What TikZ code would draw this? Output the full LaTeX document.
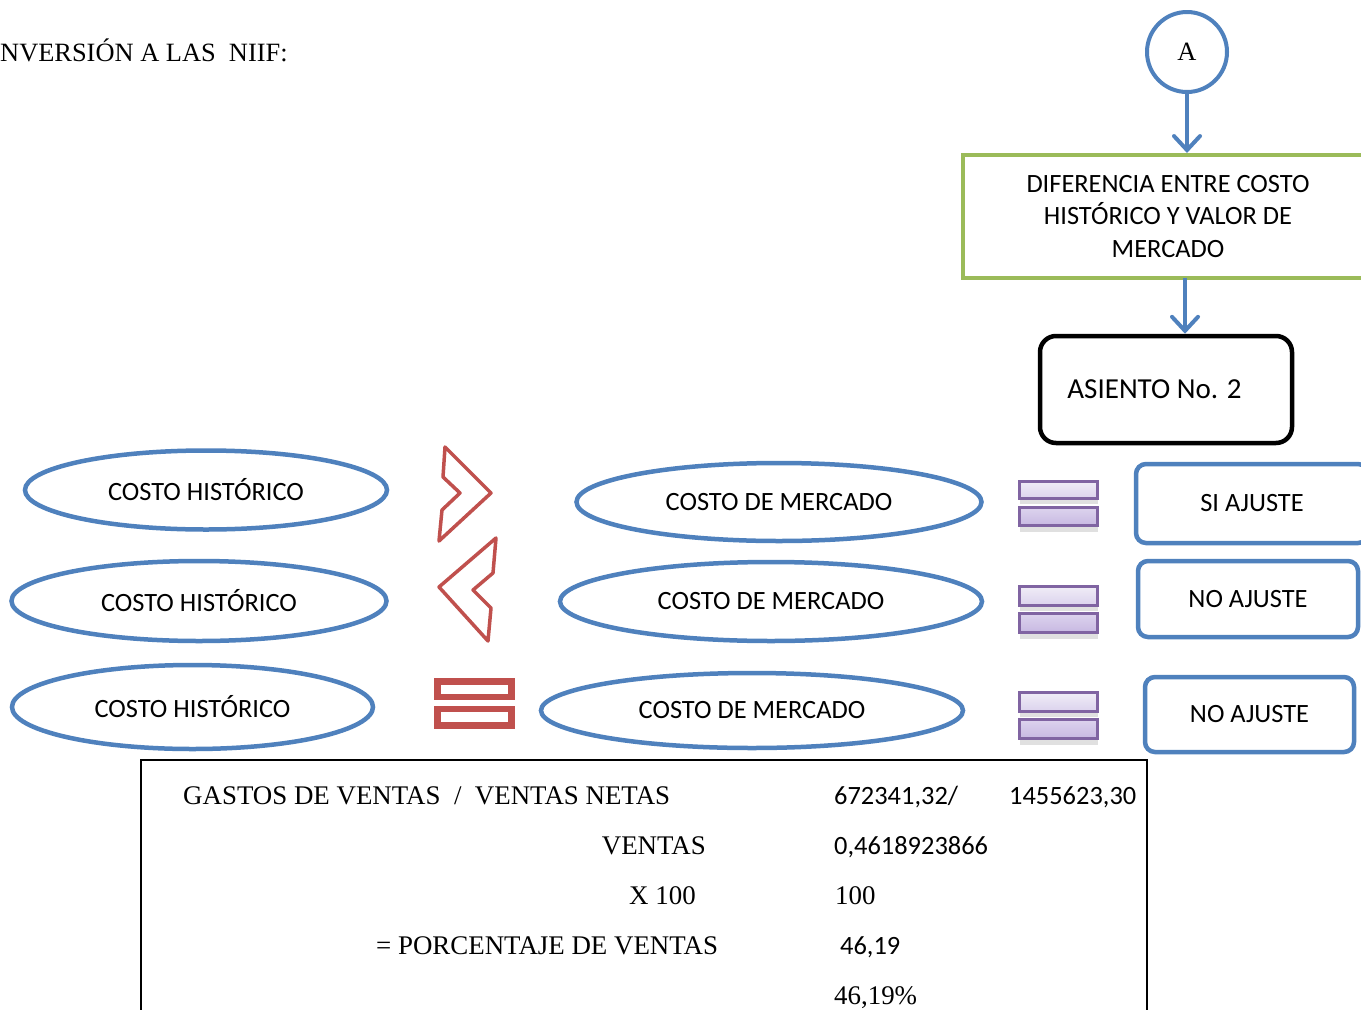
\documentclass[tikz,border=0pt]{standalone}
\usepackage{fontspec}
\setmainfont{Liberation Serif}
\newfontfamily\carlito{Carlito}
\usetikzlibrary{shapes.geometric,arrows.meta}
\definecolor{bl}{HTML}{4F81BD}
\definecolor{gr}{HTML}{9BBB59}
\definecolor{rd}{HTML}{C0504D}
\definecolor{pu}{HTML}{8064A2}
\definecolor{pua}{HTML}{F0EDF7}
\definecolor{pub}{HTML}{DCD3ED}
\definecolor{puc}{HTML}{DDD4EE}
\definecolor{pud}{HTML}{C8B9E2}
\begin{document}
\begin{tikzpicture}[x=1pt,y=-1pt,
  tms/.style={font=\fontsize{26.4}{32.5}\selectfont},
  tmt/.style={font=\fontsize{26.9}{32.5}\selectfont},
  cal/.style={font=\carlito\fontsize{26.4}{32.5}\selectfont},
  ell/.style={ellipse, draw=bl, line width=4.5pt, inner sep=0pt, cal},
  bbox/.style={rectangle, rounded corners=10pt, draw=bl, line width=4.5pt, inner sep=0pt, cal},
  arr/.style={draw=bl, line width=4pt, -{Straight Barb[length=14pt,width=26pt,line cap=round]}},
  chev/.style={draw=rd, line width=3.5pt, line join=round, fill=white},
  barA/.style={draw=pu, line width=3pt, top color=pua, bottom color=pub},
  barB/.style={draw=pu, line width=3pt, top color=puc, bottom color=pud},
  shd/.style={fill=black, opacity=0.12},
  txt/.style={inner sep=0pt}
]
\clip (0,0) rectangle (1361,1010);
\fill[white] (0,0) rectangle (1361,1010);

% title
\node (title) [txt, tms, anchor=base west] at (0,61) {NVERSIÓN A LAS\ \ NIIF:};

% flow at top right
\node (a) [circle, draw=bl, line width=4pt, minimum size=80pt, inner sep=0pt, tms] at (1187,52) {A};
\node (dif) [rectangle, draw=gr, line width=4pt, minimum width=410pt, minimum height=123pt, inner sep=0pt, cal, align=center] at (1168,216.5) {DIFERENCIA ENTRE COSTO\\HISTÓRICO Y VALOR DE\\MERCADO};
\node (asi) [rectangle, rounded corners=16pt, draw=black, line width=4.5pt, minimum width=252pt, minimum height=107pt, inner sep=0pt, font=\carlito\fontsize{29}{34}\selectfont] at (1166,389.5) {ASIENTO No. 2\hspace*{23pt}};
\draw[arr] (a.south) -- (a.south |- dif.north);
\draw[arr] (1185,278) coordinate (d1) -- (d1 |- asi.north);

% row 1
\node (h1) [ell, minimum width=362pt, minimum height=79pt] at (206,490) {COSTO HISTÓRICO};
\node (m1) [ell, minimum width=405pt, minimum height=78pt] at (779,502) {COSTO DE MERCADO};
\node (r1) [bbox, minimum width=232pt, minimum height=79pt] at (1252,503.5) {SI AJUSTE};
\draw[chev] (445,447) -- (491,493) -- (439,541) -- (442,510) -- (460,493) -- (443,477) -- cycle;

% row 2
\node (h2) [ell, minimum width=375pt, minimum height=80pt] at (199,601) {COSTO HISTÓRICO};
\node (m2) [ell, minimum width=422pt, minimum height=79pt] at (771,601.5) {COSTO DE MERCADO};
\node (r2) [bbox, minimum width=220pt, minimum height=76pt] at (1248,599) {NO AJUSTE};
\draw[chev] (496,538) -- (493,573) -- (473,590) -- (491,608) -- (488,641) -- (439,587) -- cycle;

% row 3
\node (h3) [ell, minimum width=361pt, minimum height=84pt] at (192.5,707) {COSTO HISTÓRICO};
\node (m3) [ell, minimum width=422pt, minimum height=75pt] at (752,710.5) {COSTO DE MERCADO};
\node (r3) [bbox, minimum width=209pt, minimum height=75pt] at (1249.5,714.5) {NO AJUSTE};
\draw[rd, line width=6.5pt] (437.5,681.5) rectangle (511.5,697);
\draw[rd, line width=6.5pt] (437.5,709) rectangle (511.5,725.5);

% purple equal signs
\foreach \ya/\yb/\yc/\yd in {481/498/507/525, 586/605/613/632, 692/711/719/738}{
  \fill[shd] (1020,\yb+2) rectangle (1098,\yb+6);
  \fill[shd] (1020,\yd+2) rectangle (1098,\yd+7);
  \draw[barA] (1019,\ya) rectangle (1097,\yb);
  \draw[barB] (1019,\yc) rectangle (1097,\yd);
}

% table
\node (tbl) [draw, line width=2pt, minimum width=1006pt, minimum height=300pt, inner sep=0pt, anchor=north west] at (140,759) {};
\node (t1) [txt, tmt, anchor=base west] at (183,804) {GASTOS DE VENTAS\ \ /\ \ VENTAS NETAS};
\node (t2) [txt, cal, anchor=base west] at (834,804) {672341,32/};
\node (t3) [txt, cal, anchor=base west] at (1009,804) {1455623,30};
\node (t4) [txt, tmt, anchor=base east] at (706,854) {VENTAS};
\node (t5) [txt, cal, anchor=base west] at (834,854) {0,4618923866};
\node (t6) [txt, tmt, anchor=base west] at (629,904) {X 100};
\node (t7) [txt, tmt, anchor=base west] at (835,904) {100};
\node (t8) [txt, tmt, anchor=base west] at (376,954) {= PORCENTAJE DE VENTAS};
\node (t9) [txt, cal, anchor=base west] at (840,954) {46,19};
\node (t10) [txt, tmt, anchor=base west] at (834,1004) {46,19\%};
\end{tikzpicture}
\end{document}
